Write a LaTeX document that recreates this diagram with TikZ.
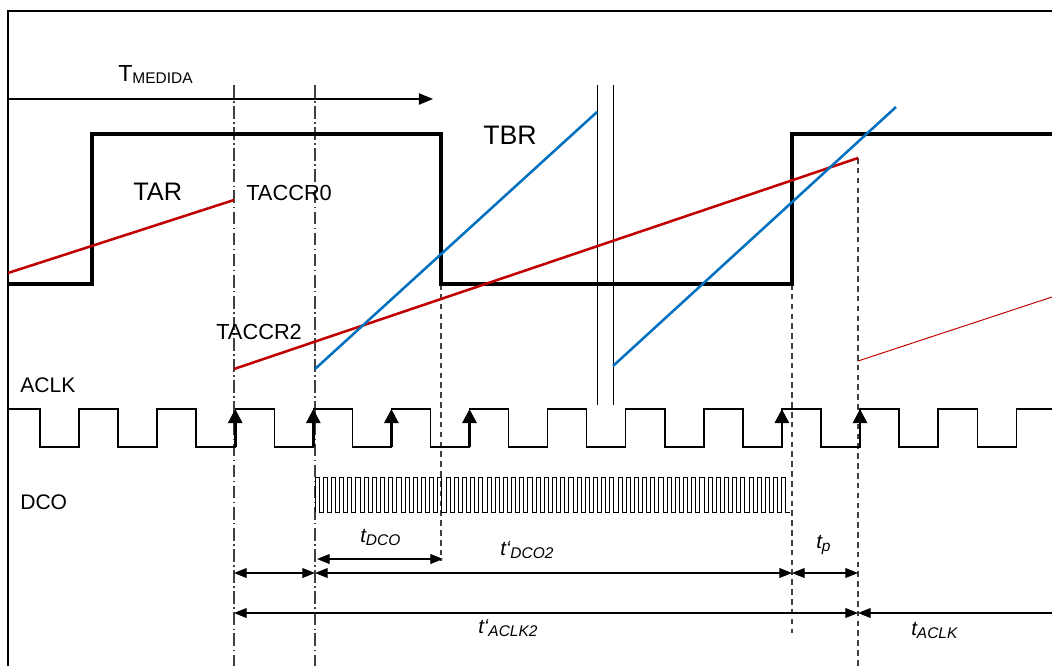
\documentclass[tikz,border=0pt]{standalone}
\usepackage{fontspec}
\setmainfont{Liberation Sans}
\usetikzlibrary{arrows.meta}
\definecolor{tared}{RGB}{192,0,0}
\definecolor{tbblue}{RGB}{0,112,192}
\newcommand{\tlab}[2]{{\fontsize{14.5}{14.5}\selectfont\itshape t#1}\raisebox{-2.5pt}{\fontsize{11}{11}\selectfont\itshape #2}}

\begin{document}
\begin{tikzpicture}[x=0.025cm,y=-0.025cm,
		dimline/.style={line width=0.8pt,{Triangle[length=9pt,width=7pt]}-{Triangle[length=9pt,width=7pt]}},
		dimleft/.style={line width=0.8pt,{Triangle[length=9pt,width=7pt]}-},
		markdd/.style={line width=1pt,black!75,dash pattern=on 9pt off 2.5pt on 1pt off 2.5pt},
		markd/.style={line width=1pt,black!75,dash pattern=on 4pt off 3pt},
		ramp/.style={line width=1.8pt},
		clkarrow/.style={line width=2pt,-{Triangle[length=10pt,width=10pt]}},
		lbl/.style={inner sep=0pt,anchor=base west}]
	\useasboundingbox (0,0) rectangle (1052,666);
	\clip (0,0) rectangle (1052,666);

	% frame and T_MEDIDA
	\coordinate (fb) at (8,666);
	\coordinate (fl) at (8,11);
	\coordinate (fr) at (1052,11);
	\draw[line width=1.8pt] (fb) -- (fl) -- (fr);
	\coordinate (ms) at (8,99);
	\coordinate (me) at (433,99);
	\draw[line width=0.9pt,-{Triangle[length=10pt,width=8pt]}] (ms) -- (me);
	\node[lbl] (tmed) at (118,81) {{\fontsize{16.5}{16.5}\selectfont T}\raisebox{-2pt}{\fontsize{11}{11}\selectfont MEDIDA}};

	% markers
	\coordinate (m1t) at (234,85);  \coordinate (m1b) at (234,666);
	\coordinate (m2t) at (315,85);  \coordinate (m2b) at (315,666);
	\coordinate (m3t) at (441,284); \coordinate (m3b) at (441,560);
	\coordinate (m4t) at (792,284); \coordinate (m4b) at (792,633);
	\coordinate (m5t) at (858,158); \coordinate (m5b) at (858,666);
	\draw[markdd] (m1t) -- (m1b);
	\draw[markdd] (m2t) -- (m2b);
	\draw[markd] (m3t) -- (m3b);
	\draw[markd] (m4t) -- (m4b);
	\draw[markd] (m5t) -- (m5b);

	% gate signal
	\draw[line width=2.2pt] (8,284) -- (92,284) -- (92,134) -- (441,134) -- (441,284)
		-- (792,284) -- (792,134) -- (1052,134);

	% break
	\coordinate (b1t) at (597,85);  \coordinate (b1b) at (597,405);
	\coordinate (b2t) at (613,85);  \coordinate (b2b) at (613,405);
	\draw[line width=0.7pt] (b1t) -- (b1b);
	\draw[line width=0.7pt] (b2t) -- (b2b);

	% TAR and TBR
	\coordinate (r1s) at (8,273);   \coordinate (r1e) at (234,200);
	\coordinate (r2s) at (234,369); \coordinate (r2e) at (858,158);
	\coordinate (r3s) at (858,361); \coordinate (r3e) at (1052,297);
	\coordinate (b1s) at (315,369); \coordinate (b1e) at (597,112);
	\coordinate (b2s) at (613,366); \coordinate (b2e) at (896,107);
	\draw[ramp,tared] (r1s) -- (r1e);
	\draw[ramp,tared] (r2s) -- (r2e);
	\draw[line width=0.7pt,tared] (r3s) -- (r3e);
	\draw[ramp,tbblue] (b1s) -- (b1e);
	\draw[ramp,tbblue] (b2s) -- (b2e);

	\node[lbl] (tar) at (133,200) {\fontsize{18}{18}\selectfont TAR};
	\node[lbl] (taccr0) at (246,200) {\fontsize{15.5}{15.5}\selectfont TACCR0};
	\node[lbl] (tbr) at (483,144) {\fontsize{19}{19}\selectfont TBR};
	\node[lbl] (taccr2) at (216,339) {\fontsize{15.5}{15.5}\selectfont TACCR2};

	% ACLK
	\node[lbl] (aclk) at (20,392) {\fontsize{15}{15}\selectfont ACLK};
	\draw[line width=1pt] (8,409) -- (40,409)
		\foreach \k in {0,...,12}{ -- ++(0,38) -- ++(39.05,0) -- ++(0,-38) -- ++(39.05,0)};
	\foreach \k in {2,3,4,5,9,10}{
		\coordinate (e\k l) at (79+78.1*\k,447);
		\coordinate (e\k h) at (79+78.1*\k,409);
		\draw[clkarrow] (e\k l) -- (e\k h);
	}

	% DCO
	\node[lbl] (dco) at (20,509) {\fontsize{15}{15}\selectfont DCO};
	\draw[line width=0.7pt] (315,512)
		\foreach \i in {0,...,57}{ -- ++(0,-35) -- ++(4.1,0) -- ++(0,35) -- ++(4.09,0)};

	% times
	\coordinate (a1) at (234,573); \coordinate (a2) at (315,573);
	\coordinate (a3) at (792,573); \coordinate (a4) at (858,573);
	\coordinate (d1) at (317,559); \coordinate (d2) at (443,559);
	\coordinate (c1) at (234,613); \coordinate (c2) at (858,613);
	\coordinate (c3) at (1052,613);
	\draw[dimline] (a1) -- (a2);
	\draw[dimline] (a2) -- (a3);
	\draw[dimline] (a3) -- (a4);
	\draw[dimline] (d1) -- (d2);
	\draw[dimline] (c1) -- (c2);
	\draw[dimleft] (c2) -- (c3);

	\node[lbl] (tdco) at (360,542) {\tlab{}{DCO}};
	\node[lbl] (tdco2) at (500,555) {\tlab{‘}{DCO2}};
	\node[lbl] (tp) at (816,548) {\tlab{}{p}};
	\node[lbl] (taclk2) at (478,633) {\tlab{‘}{ACLK2}};
	\node[lbl] (taclk) at (911,635) {\tlab{}{ACLK}};
\end{tikzpicture}
\end{document}
